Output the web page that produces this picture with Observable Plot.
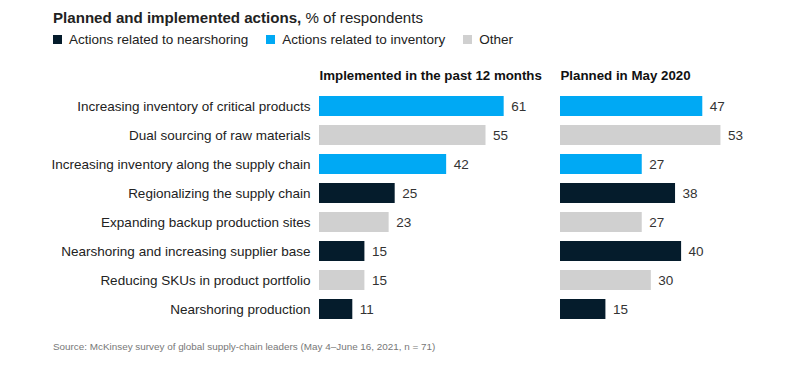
<!DOCTYPE html>
<html>
<head>
<meta charset="utf-8">
<script src="https://cdn.jsdelivr.net/npm/d3@7"></script>
<script src="https://cdn.jsdelivr.net/npm/@observablehq/plot@0.6"></script>
<style>
  html, body { margin: 0; padding: 0; background: #fff; }
  #wrap { position: relative; width: 809px; height: 372px; font-family: "Liberation Sans", Arial, sans-serif; color: #222; }
  #title { position: absolute; left: 53px; top: 9px; font-size: 15.1px; white-space: nowrap; }
  #title b { font-weight: bold; }
  #legend { position: absolute; left: 53px; top: 32px; font-size: 13.5px; white-space: nowrap; display: flex; align-items: center; }
  #legend .item { display: flex; align-items: center; margin-right: 18px; }
  #legend .sw { width: 9px; height: 9px; margin-right: 7px; display: inline-block; }
  #chart { position: absolute; left: 0; top: 56px; }
  #source { position: absolute; left: 53px; top: 341px; font-size: 9.9px; color: #777; white-space: nowrap; }
</style>
</head>
<body>
<div id="wrap">
  <div id="title"><b>Planned and implemented actions,</b> % of respondents</div>
  <div id="legend"></div>
  <div id="chart"></div>
  <div id="source">Source: McKinsey survey of global supply-chain leaders (May 4–June 16, 2021, n = 71)</div>
</div>
<script>
const actions = [
  "Increasing inventory of critical products",
  "Dual sourcing of raw materials",
  "Increasing inventory along the supply chain",
  "Regionalizing the supply chain",
  "Expanding backup production sites",
  "Nearshoring and increasing supplier base",
  "Reducing SKUs in product portfolio",
  "Nearshoring production"
];
const implemented = [61, 55, 42, 25, 23, 15, 15, 11];
const planned = [47, 53, 27, 38, 27, 40, 30, 15];
const categories = ["Actions related to nearshoring", "Actions related to inventory", "Other"];
const actionCategory = [1, 2, 1, 0, 2, 0, 2, 0];
const colors = ["#051c2c", "#00a9f4", "#d0d0d0"];
const panels = ["Implemented in the past 12 months", "Planned in May 2020"];

const legend = document.getElementById("legend");
categories.forEach((c, i) => {
  const it = document.createElement("span");
  it.className = "item";
  it.innerHTML = `<span class="sw" style="background:${colors[i]}"></span>${c}`;
  legend.appendChild(it);
});

const rows = [];
actions.forEach((a, i) => {
  rows.push({panel: panels[0], action: a, value: implemented[i], cat: categories[actionCategory[i]]});
  rows.push({panel: panels[1], action: a, value: planned[i], cat: categories[actionCategory[i]]});
});

const chart = Plot.plot({
  width: 809,
  height: 282,
  marginLeft: 318,
  marginRight: 27,
  marginTop: 35.5,
  marginBottom: 14.5,
  style: {fontSize: "13.5px", fontFamily: "'Liberation Sans', Arial, sans-serif", color: "#222", background: "transparent"},
  fx: {domain: panels, paddingInner: 0.0826, paddingOuter: 0, axis: null},
  x: {domain: [0, 73], axis: null},
  y: {domain: actions, paddingInner: 0.31, paddingOuter: 0.155, label: null, tickSize: 0, tickPadding: 9},
  color: {domain: categories, range: colors},
  marks: [
    Plot.barX(rows, {fx: "panel", y: "action", x: "value", fill: "cat"}),
    Plot.text(rows, {fx: "panel", y: "action", x: "value", text: d => String(d.value), textAnchor: "start", dx: 7, fill: "#333", fontSize: 13.5}),
    Plot.text(panels, {fx: d => d, text: d => d, frameAnchor: "top-left", lineAnchor: "middle", dy: -16.5, fontWeight: "bold", fontSize: 13.3, fill: "#111"})
  ]
});
document.getElementById("chart").appendChild(chart);
</script>
</body>
</html>
